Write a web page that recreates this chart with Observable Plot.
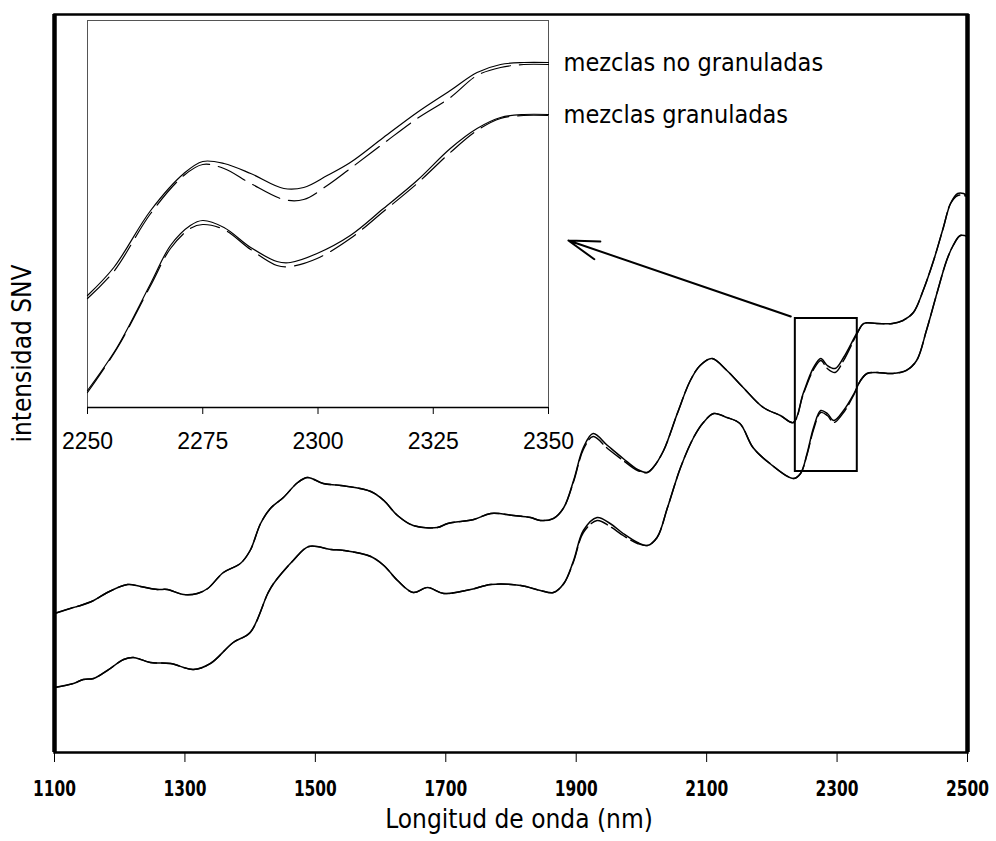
<!DOCTYPE html>
<html>
<head>
<meta charset="utf-8">
<script src="https://cdn.jsdelivr.net/npm/d3@7"></script>
<script src="https://cdn.jsdelivr.net/npm/@observablehq/plot@0.6"></script>
<style>
  body { margin: 0; background: #fff; }
  #chart { position: relative; width: 996px; height: 841px; }
  #chart svg { position: absolute; left: 0; top: 0; overflow: visible; }
</style>
</head>
<body>
<div id="chart"></div>
<script>
// Espectros NIR tras SNV (1100-2500 nm): mezclas no granuladas y granuladas,
// dos espectros por grupo (trazo continuo y discontinuo).
const xTitle = "Longitud de onda (nm)";
const yTitle = "intensidad SNV";
const xTicks = [1100, 1300, 1500, 1700, 1900, 2100, 2300, 2500];

const wlNoGran = [1100,1129,1140,1160,1181,1212,1232,1258,1273,1298,1319,1335,1359,1385,1400,1416,1431,1451,1473,1488,1512,1539,1585,1605,1626,1650,1687,1703,1743,1769,1804,1830,1845,1865,1881,1896,1911,1926,1948,1972,1994,2009,2018,2034,2055,2075,2090,2108,2131,2156,2187,2213,2233,2248,2264,2275,2285,2297,2310,2331,2341,2361,2385,2401,2417,2432,2448,2463,2474,2485,2494,2500];
const noGranA = [1.39,1.45,1.47,1.52,1.60,1.68,1.66,1.63,1.63,1.58,1.59,1.64,1.80,1.89,2.02,2.29,2.44,2.55,2.70,2.75,2.69,2.67,2.61,2.52,2.37,2.27,2.25,2.29,2.33,2.39,2.37,2.35,2.32,2.34,2.45,2.72,3.05,3.19,3.07,2.94,2.83,2.80,2.85,3.02,3.39,3.72,3.87,3.94,3.82,3.65,3.45,3.37,3.30,3.59,3.85,3.94,3.87,3.84,3.95,4.20,4.29,4.29,4.29,4.32,4.40,4.62,4.92,5.25,5.49,5.59,5.59,5.56];
const noGranB = [1.39,1.45,1.47,1.52,1.60,1.68,1.66,1.63,1.63,1.58,1.59,1.64,1.80,1.89,2.02,2.29,2.44,2.55,2.70,2.75,2.69,2.67,2.61,2.52,2.37,2.27,2.25,2.29,2.33,2.39,2.37,2.35,2.32,2.34,2.45,2.71,3.03,3.16,3.04,2.92,2.82,2.80,2.85,3.02,3.39,3.72,3.87,3.94,3.82,3.65,3.45,3.37,3.30,3.58,3.83,3.92,3.84,3.80,3.92,4.19,4.29,4.29,4.29,4.32,4.40,4.62,4.92,5.25,5.49,5.57,5.57,5.56];

const wlGran = [1100,1129,1144,1160,1181,1206,1221,1247,1278,1313,1339,1374,1400,1427,1436,1466,1490,1524,1544,1585,1605,1626,1650,1672,1697,1738,1769,1815,1845,1865,1881,1896,1911,1932,1952,1972,1994,2009,2024,2040,2060,2080,2095,2111,2131,2151,2171,2197,2233,2244,2254,2264,2275,2285,2295,2310,2326,2336,2346,2361,2385,2406,2422,2437,2453,2468,2478,2489,2500];
const granA = [0.65,0.69,0.73,0.74,0.82,0.93,0.95,0.90,0.89,0.83,0.89,1.10,1.20,1.59,1.69,1.92,2.06,2.03,2.02,1.96,1.87,1.72,1.60,1.65,1.59,1.63,1.68,1.67,1.62,1.60,1.69,1.92,2.22,2.35,2.29,2.19,2.10,2.07,2.15,2.45,2.85,3.15,3.30,3.39,3.35,3.29,3.05,2.89,2.74,2.79,2.99,3.25,3.42,3.39,3.32,3.42,3.59,3.72,3.79,3.80,3.79,3.82,3.92,4.22,4.59,4.92,5.07,5.17,5.16];
const granB = [0.65,0.69,0.73,0.74,0.82,0.93,0.95,0.90,0.89,0.83,0.89,1.10,1.20,1.59,1.69,1.92,2.06,2.03,2.02,1.96,1.87,1.72,1.60,1.65,1.59,1.63,1.68,1.67,1.62,1.60,1.69,1.91,2.20,2.32,2.26,2.17,2.09,2.07,2.15,2.45,2.85,3.15,3.30,3.39,3.35,3.29,3.05,2.89,2.74,2.79,2.98,3.23,3.40,3.37,3.30,3.40,3.58,3.72,3.79,3.80,3.79,3.82,3.92,4.22,4.59,4.92,5.07,5.17,5.16];

// Ampliación 2250-2350 nm
const insetTicks = [2250, 2275, 2300, 2325, 2350];
const insetLabels = ["mezclas no granuladas", "mezclas granuladas"];
const wlInsetNoGran = [2250,2255.7,2263.7,2270.9,2275,2279.6,2285.4,2292.6,2296.9,2302,2307,2314.2,2321.5,2328.7,2334.5,2339.6,2344.6,2350];
const insetNoGranA = [1.12,1.40,1.97,2.34,2.46,2.44,2.34,2.19,2.20,2.32,2.45,2.70,2.95,3.17,3.35,3.43,3.45,3.45];
const insetNoGranB = [1.09,1.36,1.94,2.32,2.43,2.39,2.24,2.08,2.08,2.22,2.39,2.64,2.89,3.10,3.32,3.40,3.43,3.43];
const wlInsetGran = [2250,2256.4,2263.7,2268,2272.3,2275,2279.6,2285.4,2291.1,2294,2299.8,2307,2314.2,2321.5,2328.7,2334.5,2339.6,2344.6,2350];
const insetGranA = [0.17,0.60,1.24,1.62,1.82,1.87,1.80,1.60,1.46,1.45,1.54,1.72,1.99,2.27,2.59,2.79,2.90,2.93,2.93];
const insetGranB = [0.15,0.59,1.22,1.59,1.79,1.83,1.78,1.58,1.42,1.41,1.49,1.69,1.96,2.24,2.55,2.77,2.89,2.92,2.92];

// Recuadro de la zona ampliada y flecha hacia la ampliación
const zoomBox = [{x1: 2236, x2: 2331, y1: 2.81, y2: 4.34}];
const pointer = [{x1: 2229, y1: 4.36, x2: 1888, y2: 5.12}];

const rows = (wl, vals, grupo) => wl.map((w, i) => ({wl: w, v: vals[i], grupo}));

const solidMain = [...rows(wlNoGran, noGranA, "no"), ...rows(wlGran, granA, "si")];
const dashedMain = [...rows(wlNoGran, noGranB, "no"), ...rows(wlGran, granB, "si")];
const solidInset = [...rows(wlInsetNoGran, insetNoGranA, "no"), ...rows(wlInsetGran, insetGranA, "si")];
const dashedInset = [...rows(wlInsetNoGran, insetNoGranB, "no"), ...rows(wlInsetGran, insetGranB, "si")];
const labelRows = [
  {label: insetLabels[0], wl: 2350, v: insetNoGranA[insetNoGranA.length - 1]},
  {label: insetLabels[1], wl: 2350, v: insetGranA[insetGranA.length - 1]}
];

const titleFont = "'DejaVu Sans Condensed', 'DejaVu Sans', sans-serif";

const main = Plot.plot({
  width: 996, height: 841,
  marginLeft: 54, marginRight: 29, marginTop: 14, marginBottom: 89,
  style: {background: "white", color: "black", fontFamily: titleFont},
  x: {domain: [1100, 2500]},
  y: {domain: [0, 7.38], axis: null},
  marks: [
    Plot.axisX({ticks: xTicks, tickFormat: d => String(d), tickSize: 10, tickPadding: 18,
      label: null, fontSize: 22, fontWeight: "bold", fontFamily: titleFont}),
    Plot.line(dashedMain, {x: "wl", y: "v", z: "grupo", stroke: "black", strokeWidth: 1.4,
      strokeDasharray: "18,5", curve: "catmull-rom"}),
    Plot.line(solidMain, {x: "wl", y: "v", z: "grupo", stroke: "black", strokeWidth: 1.5,
      curve: "catmull-rom"}),
    Plot.rect(zoomBox, {x1: "x1", x2: "x2", y1: "y1", y2: "y2", fill: "none", stroke: "black", strokeWidth: 2}),
    Plot.arrow(pointer, {x1: "x1", y1: "y1", x2: "x2", y2: "y2", stroke: "black", strokeWidth: 2,
      headLength: 24, headAngle: 34}),
    Plot.frame({stroke: "black", strokeWidth: 2.5}),
    Plot.ruleX([1100, 2500], {stroke: "black", strokeWidth: 4.5}),
    Plot.text([xTitle], {frameAnchor: "bottom", dy: 75, dx: 8, fontSize: 26, fontFamily: titleFont}),
    Plot.text([yTitle], {frameAnchor: "left", textAnchor: "middle", dx: -32, dy: -30, rotate: -90,
      fontSize: 26, fontFamily: titleFont})
  ]
});

// Números del eje principal: estrechos y altos
d3.select(main).selectAll('g[aria-label="x-axis tick label"] text').each(function () {
  const t = this.getAttribute("transform") || "";
  this.setAttribute("transform", t + " scale(0.78,1)");
});

const inset = Plot.plot({
  width: 996, height: 470,
  marginLeft: 87, marginRight: 448, marginTop: 20, marginBottom: 63,
  style: {background: "transparent", color: "black", fontFamily: titleFont},
  x: {domain: [2250, 2350]},
  y: {domain: [0, 3.87], axis: null},
  marks: [
    Plot.ruleX([2250, 2350], {stroke: "#555", strokeWidth: 1}),
    Plot.ruleY([3.87], {stroke: "#555", strokeWidth: 1}),
    Plot.axisX({ticks: insetTicks, tickFormat: d => String(d), tickSize: 7, tickPadding: 18,
      label: null, fontSize: 23, fontFamily: "'Liberation Sans', Arial, sans-serif"}),
    Plot.ruleY([0], {stroke: "black", strokeWidth: 1.5}),
    Plot.line(dashedInset, {x: "wl", y: "v", z: "grupo", stroke: "black", strokeWidth: 1.2,
      strokeDasharray: "30,9", curve: "catmull-rom"}),
    Plot.line(solidInset, {x: "wl", y: "v", z: "grupo", stroke: "black", strokeWidth: 1.2,
      curve: "catmull-rom"}),
    Plot.text(labelRows, {x: "wl", y: "v", text: "label", textAnchor: "start", dx: 15,
      fontSize: 25, fontFamily: titleFont})
  ]
});

const host = document.getElementById("chart");
host.appendChild(main);
host.appendChild(inset);
</script>
</body>
</html>
